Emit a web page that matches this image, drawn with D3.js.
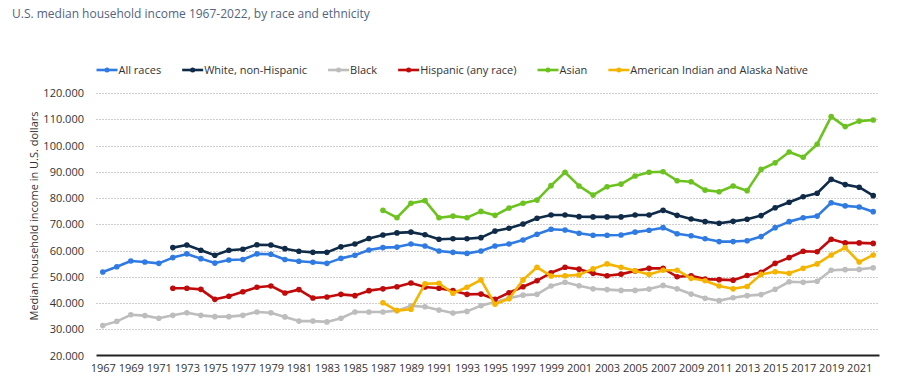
<!DOCTYPE html>
<html>
<head>
<meta charset="utf-8">
<script src="https://cdn.jsdelivr.net/npm/d3@7"></script>
<style>
  body { margin: 0; background: #fff; }
  svg { display: block; font-family: "Open Sans", sans-serif; }
</style>
</head>
<body>
<svg width="904" height="390"></svg>
<script>
// Years on the x axis
const years = [1967, 1968, 1969, 1970, 1971, 1972, 1973, 1974, 1975, 1976, 1977, 1978, 1979, 1980,
  1981, 1982, 1983, 1984, 1985, 1986, 1987, 1988, 1989, 1990, 1991, 1992, 1993, 1994, 1995, 1996,
  1997, 1998, 1999, 2000, 2001, 2002, 2003, 2004, 2005, 2006, 2007, 2008, 2009, 2010, 2011, 2012,
  2013, 2014, 2015, 2016, 2017, 2018, 2019, 2020, 2021, 2022];

// Median household income, thousands of U.S. dollars (null = no data)
const allRaces = [51.8, 53.8, 56.0, 55.6, 55.1, 57.3, 58.7, 56.9, 55.2, 56.4, 56.6,
  58.7, 58.6, 56.6, 55.9, 55.5, 55.1, 57.0, 58.2, 60.2, 61.1, 61.3,
  62.5, 61.7, 59.8, 59.3, 58.9, 59.8, 61.7, 62.5, 64.0, 66.2, 68.1,
  67.8, 66.6, 65.8, 65.8, 65.9, 67.0, 67.7, 68.7, 66.4, 65.6, 64.5,
  63.4, 63.4, 63.7, 65.3, 68.7, 71.0, 72.5, 73.1, 78.2, 77.0, 76.6, 74.8];

const whiteNonHispanic = [null, null, null, null, null,
  61.1, 62.1, 60.1, 58.2, 60.1, 60.5, 62.2,
  62.1, 60.7, 59.7, 59.3, 59.3, 61.4, 62.5, 64.6, 65.9, 66.7, 67.0,
  66.0, 64.3, 64.5, 64.5, 64.9, 67.4, 68.5, 70.1, 72.3, 73.5, 73.5,
  72.9, 72.8, 72.8, 72.8, 73.5, 73.5, 75.3, 73.4, 72.0, 71.0, 70.4,
  71.1, 71.9, 73.3, 76.3, 78.4, 80.5, 81.8, 87.1, 85.1, 84.1, 80.9];

const black = [31.4, 33.0, 35.5, 35.2, 34.2, 35.3, 36.3, 35.3, 34.8, 34.8, 35.3,
  36.6, 36.3, 34.7, 33.1, 33.1, 32.8, 34.2, 36.6, 36.6, 36.6, 37.1,
  38.9, 38.6, 37.3, 36.2, 36.8, 39.0, 40.4, 41.8, 43.0, 43.3, 46.5,
  47.9, 46.6, 45.4, 45.1, 44.8, 44.8, 45.3, 46.7, 45.4, 43.4, 41.8,
  40.9, 42.0, 42.8, 43.2, 45.2, 48.1, 47.9, 48.3, 52.5, 52.7, 52.8, 53.4];

const hispanic = [null, null, null, null, null,
  45.6, 45.6, 45.2, 41.4, 42.6, 44.3, 46.0,
  46.5, 43.8, 45.1, 41.9, 42.3, 43.3, 42.8, 44.7, 45.4, 46.2, 47.6,
  46.1, 45.6, 44.7, 43.3, 43.4, 41.4, 43.9, 46.2, 48.5, 51.5, 53.6,
  52.9, 51.3, 50.4, 51.0, 52.2, 53.2, 53.2, 50.0, 50.4, 49.1, 48.9,
  48.7, 50.5, 51.7, 55.1, 57.3, 59.7, 59.5, 64.3, 62.9, 62.9, 62.7];

const asian = [null, null, null, null, null, null, null, null, null, null,
  null, null, null, null, null, null, null, null, null, null,
  75.3, 72.5, 78.0,
  79.0, 72.5, 73.1, 72.5, 74.9, 73.4, 76.2, 78.0, 79.2, 84.7, 89.8,
  84.6, 81.1, 84.3, 85.3, 88.4, 89.8, 90.0, 86.6, 86.2, 83.0, 82.4,
  84.6, 82.8, 90.9, 93.4, 97.5, 95.5, 100.5, 111.0, 107.2, 109.3, 109.7];

const americanIndian = [null, null, null, null, null, null, null, null, null, null,
  null, null, null, null, null, null, null, null, null, null,
  40.1, 37.1, 37.6,
  47.3, 47.5, 43.7, 46.0, 48.8, 39.5, 41.6, 48.8, 53.6, 50.3, 50.4,
  50.7, 53.0, 54.9, 53.6, 52.3, 50.9, 52.5, 52.5, 49.4, 48.5, 46.5,
  45.4, 46.3, 50.9, 51.9, 51.3, 53.2, 54.9, 58.3, 61.1, 55.6, 58.3];

const seriesNames = ["All races", "White, non-Hispanic", "Black", "Hispanic (any race)",
  "Asian", "American Indian and Alaska Native"];
const seriesColors = ["#2f7be3", "#0f2b48", "#bdbdbd", "#c10a0a", "#6cc320", "#f5b400"];
const seriesValues = [allRaces, whiteNonHispanic, black, hispanic, asian, americanIndian];

const yTicks = [20, 30, 40, 50, 60, 70, 80, 90, 100, 110, 120];
const xTickYears = years.filter((y, i) => i % 2 === 0);

const svg = d3.select("svg");

// Scales
const x = d3.scalePoint()
    .domain(years)
    .range([96.5, 879.5])
    .padding(0.45);

const y = d3.scaleLinear()
    .domain([20, 120])
    .range([355.5, 93]);

// Title
svg.append("text")
    .attr("x", 12)
    .attr("y", 18)
    .attr("fill", "#546480")
    .style("font-size", "12px")
    .text("U.S. median household income 1967-2022, by race and ethnicity");

// Gridlines
svg.append("g")
    .selectAll("line")
    .data(yTicks.slice(1))
    .enter()
    .append("line")
    .attr("x1", 96.5)
    .attr("x2", 879.5)
    .attr("y1", d => Math.round(y(d)) + 0.5)
    .attr("y2", d => Math.round(y(d)) + 0.5)
    .attr("stroke", "#9a9a9a")
    .attr("stroke-width", 1)
    .attr("stroke-dasharray", "1,2");

// Y axis labels
const yAxis = d3.axisLeft(y)
    .tickValues(yTicks)
    .tickSize(0)
    .tickPadding(0)
    .tickFormat(d => d3.format(",")(d * 1000).replace(/,/g, "."));

svg.append("g")
    .attr("transform", "translate(84,0)")
    .call(yAxis)
    .call(g => g.select(".domain").remove())
    .call(g => g.selectAll("text")
        .attr("fill", "#333")
        .style("font-size", "11px")
        .style("font-family", "'Open Sans', sans-serif"));

// Y axis title
svg.append("text")
    .attr("transform", "translate(38,216) rotate(-90)")
    .attr("text-anchor", "middle")
    .attr("fill", "#333")
    .style("font-size", "11px")
    .text("Median household income in U.S. dollars");

// X axis
const xAxis = d3.axisBottom(x)
    .tickValues(xTickYears)
    .tickSize(0)
    .tickPadding(9);

svg.append("g")
    .attr("transform", "translate(0,355.5)")
    .call(xAxis)
    .call(g => g.select(".domain").remove())
    .call(g => g.selectAll("text")
        .attr("fill", "#333")
        .style("font-size", "11px")
        .style("font-family", "'Open Sans', sans-serif"));

svg.append("line")
    .attr("x1", 96.5)
    .attr("x2", 879.5)
    .attr("y1", 355.5)
    .attr("y2", 355.5)
    .attr("stroke", "#222")
    .attr("stroke-width", 2);

// Lines and markers
const line = d3.line()
    .defined(d => d.v !== null)
    .x(d => x(d.year))
    .y(d => y(d.v));

seriesValues.forEach((vals, i) => {
    const pts = years.map((yr, j) => ({ year: yr, v: vals[j] }));
    const g = svg.append("g");
    g.append("path")
        .datum(pts)
        .attr("d", line)
        .attr("fill", "none")
        .attr("stroke", seriesColors[i])
        .attr("stroke-width", 2.6)
        .attr("stroke-linejoin", "round");
    g.selectAll("circle")
        .data(pts.filter(d => d.v !== null))
        .enter()
        .append("circle")
        .attr("cx", d => x(d.year))
        .attr("cy", d => y(d.v))
        .attr("r", 2.8)
        .attr("fill", seriesColors[i]);
});

// Legend
const legend = svg.append("g").attr("transform", "translate(0,70)");
let lx = 96.5;
seriesNames.forEach((name, i) => {
    const item = legend.append("g").attr("transform", `translate(${lx},0)`);
    item.append("line")
        .attr("x1", 0).attr("x2", 21)
        .attr("y1", 0).attr("y2", 0)
        .attr("stroke", seriesColors[i])
        .attr("stroke-width", 2.6);
    item.append("circle")
        .attr("cx", 10.5).attr("cy", 0)
        .attr("r", 2.5)
        .attr("fill", seriesColors[i]);
    const t = item.append("text")
        .attr("x", 22)
        .attr("y", 4)
        .attr("fill", "#333")
        .style("font-size", "11px")
        .text(name);
    lx += 22 + t.node().getComputedTextLength() + 21;
});
</script>
</body>
</html>
